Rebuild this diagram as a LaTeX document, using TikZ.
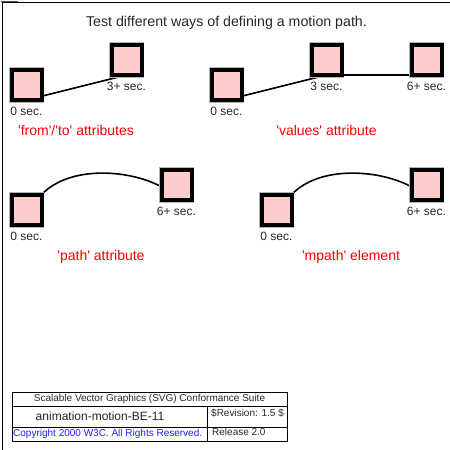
\documentclass[tikz,border=0pt]{standalone}
\usepackage{fontspec}
\setmainfont{Liberation Sans}
\usetikzlibrary{backgrounds}
\definecolor{sqpink}{HTML}{FFCCCC}
\definecolor{ringgray}{HTML}{B4B4B4}
\definecolor{copyblue}{HTML}{2020FF}
\newcommand{\qtick}{\textquotesingle}
\begin{document}
\begin{tikzpicture}[x=1pt,y=-1pt,
  sqbox/.style={draw=black, line width=4pt, fill=sqpink, minimum size=30pt,
    inner sep=0pt, outer sep=0pt, anchor=south,
    preaction={draw=ringgray, line width=5.6pt}},
  path line/.style={draw=black, line width=1.6pt},
  tlabel/.style={font=\fontsize{12}{14}\selectfont, text=black!85, anchor=base, inner sep=0pt},
  caption/.style={font=\fontsize{14}{16}\selectfont, text=red, anchor=base, inner sep=0pt},
  tbl/.style={font=\fontsize{10}{12}\selectfont, text=black!85, inner sep=0pt},
  frame/.style={draw=black, line width=1pt}
]
\useasboundingbox (0,0) rectangle (450,450);

% outer frame
\draw[frame] (2.5,450) -- (2.5,2.5) -- (450,2.5);
\draw[red, line width=1.6pt] (1,1.6) -- (17.5,1.6);

% title
\node[font=\fontsize{14.2}{17}\selectfont, text=black!85, anchor=base, inner sep=0pt] (title)
  at (226.5,26) {Test different ways of defining a motion path.};

% ---- from/to ----
\node[sqbox] (a1) at (26.5,100) {};
\node[sqbox] (a2) at (126.5,75) {};
\node[tlabel] (la1) at (26.5,115) {0 sec.};
\node[tlabel] (la2) at (126.5,90) {3+ sec.};
\node[caption] (ca) at (76,135) {\qtick from\qtick/\qtick to\qtick{} attributes};

% ---- values ----
\node[sqbox] (b1) at (226.5,100) {};
\node[sqbox] (b2) at (326.5,75) {};
\node[sqbox] (b3) at (426.5,75) {};
\node[tlabel] (lb1) at (226.5,115) {0 sec.};
\node[tlabel] (lb2) at (326.5,90) {3 sec.};
\node[tlabel] (lb3) at (426.5,90) {6+ sec.};
\node[caption] (cb) at (326.5,135) {\qtick values\qtick{} attribute};

% ---- path ----
\node[sqbox] (c1) at (26.5,225) {};
\node[sqbox] (c2) at (176.5,200) {};
\node[tlabel] (lc1) at (26.5,240) {0 sec.};
\node[tlabel] (lc2) at (176.5,215) {6+ sec.};
\node[caption] (cc) at (101,260) {\qtick path\qtick{} attribute};

% ---- mpath ----
\node[sqbox] (d1) at (276.5,225) {};
\node[sqbox] (d2) at (426.5,200) {};
\node[tlabel] (ld1) at (276.5,240) {0 sec.};
\node[tlabel] (ld2) at (426.5,215) {6+ sec.};
\node[caption] (cd) at (351,260) {\qtick mpath\qtick{} element};

% motion paths behind squares
\begin{scope}[on background layer]
  \draw[path line] (a1.south) -- (a2.south);
  \draw[path line] (b1.south) -- (b2.south) -- (b3.south);
  \draw[path line] (c1.south) .. controls +(13.5,-75) and +(-17.3,-30) .. (c2.south);
  \draw[path line] (d1.south) .. controls +(13.5,-75) and +(-17.3,-30) .. (d2.south);
\end{scope}

% ---- legend table ----
\draw[frame] (12,392) rectangle (287,441);
\draw[frame] (12,406) -- (287,406);
\draw[frame] (12,427) -- (287,427);
\draw[frame] (207,406) -- (207,441);
\node[tbl, anchor=base] (suite) at (149.5,401.5) {Scalable Vector Graphics (SVG) Conformance Suite};
\node[tbl, font=\fontsize{12}{14}\selectfont, anchor=base] (testname) at (100,420) {animation-motion-BE-11};
\node[tbl, anchor=base west] (rev) at (211,416.5) {\$Revision: 1.5 \$};
\node[tbl, anchor=base west] (rel) at (212,435) {Release 2.0};
\node[tbl, text=copyblue, anchor=base west] (copy) at (13,436.5) {Copyright 2000 W3C. All Rights Reserved.};
\end{tikzpicture}
\end{document}
